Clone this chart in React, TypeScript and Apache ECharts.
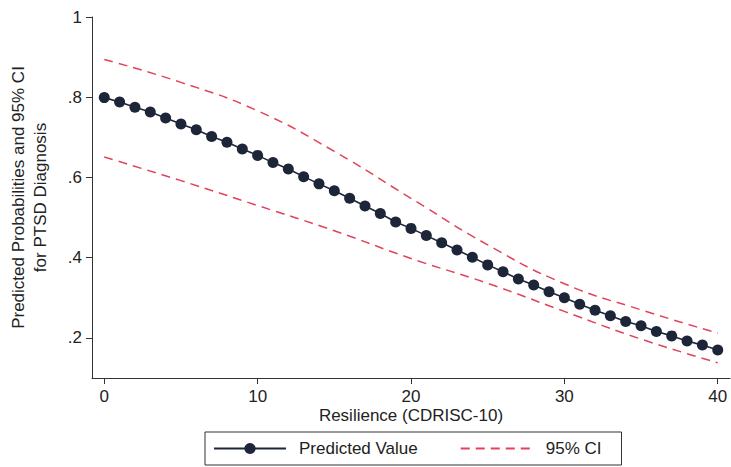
import React, { useEffect, useRef } from "react";
import * as echarts from "echarts";

const resilience: number[] = [
  0, 1, 2, 3, 4, 5, 6, 7, 8, 9, 10, 11, 12, 13, 14, 15, 16, 17, 18, 19, 20,
  21, 22, 23, 24, 25, 26, 27, 28, 29, 30, 31, 32, 33, 34, 35, 36, 37, 38, 39, 40,
];
const predicted: number[] = [
  0.799, 0.788, 0.775, 0.763, 0.748, 0.733, 0.719, 0.702, 0.688, 0.671, 0.655,
  0.637, 0.621, 0.602, 0.584, 0.567, 0.548, 0.529, 0.51, 0.489, 0.473,
  0.455, 0.437, 0.419, 0.401, 0.382, 0.365, 0.347, 0.332, 0.315, 0.3,
  0.284, 0.269, 0.255, 0.241, 0.23, 0.216, 0.205, 0.192, 0.182, 0.17,
];
const ciX: number[] = [0, 5, 10, 15, 20, 25, 30, 35, 40];
const ciUpper: number[] = [0.894, 0.837, 0.766, 0.665, 0.548, 0.432, 0.335, 0.27, 0.212];
const ciLower: number[] = [0.651, 0.592, 0.53, 0.467, 0.398, 0.336, 0.266, 0.197, 0.138];
const xTicks: number[] = [0, 10, 20, 30, 40];
const yTicks: number[] = [0.2, 0.4, 0.6, 0.8, 1];

const FONT = "'Liberation Sans', Arial, sans-serif";
const TEXT = "#222";
const NAVY = "#1d2638";
const RED = "#e2435c";

export default function App() {
  const ref = useRef<HTMLDivElement>(null);
  useEffect(() => {
    if (!ref.current) return;
    const chart = echarts.init(ref.current, null, { renderer: "svg" });
    chart.setOption({
      animation: false,
      backgroundColor: "#fff",
      textStyle: { fontFamily: FONT },
      grid: { left: 92, right: 1, top: 17, bottom: 89, containLabel: false, outerBoundsMode: "none" },
      legend: {
        left: 205,
        top: 432,
        data: [
          { name: "Predicted Value" },
          { name: "95% CI", itemStyle: { opacity: 0 } },
        ],
        borderColor: "#333",
        borderWidth: 1,
        padding: [8, 20, 8, 8],
        itemWidth: 72,
        itemHeight: 14,
        itemGap: 42,
        textStyle: { fontSize: 17, color: TEXT, fontFamily: FONT, padding: [0, 0, 0, 8] },
      },
      xAxis: {
        type: "value",
        min: -0.8,
        max: 40.8,
        name: "Resilience (CDRISC-10)",
        nameLocation: "middle",
        nameGap: 29,
        nameMoveOverlap: false,
        nameTextStyle: { fontSize: 17, color: TEXT, fontFamily: FONT },
        axisLine: { show: true, onZero: false, lineStyle: { color: "#333", width: 1 } },
        axisTick: { show: true, length: 6, customValues: xTicks, lineStyle: { color: "#333" } },
        axisLabel: { customValues: xTicks, fontSize: 17, color: TEXT, margin: 10, fontFamily: FONT },
        splitLine: { show: false },
      },
      yAxis: {
        type: "value",
        min: 0.1,
        max: 1,
        name: "Predicted Probabilities and 95% CI\nfor PTSD Diagnosis",
        nameLocation: "middle",
        nameGap: 41,
        nameMoveOverlap: false,
        nameTextStyle: { fontSize: 17, color: TEXT, fontFamily: FONT, lineHeight: 22 },
        axisLine: { show: true, onZero: false, lineStyle: { color: "#333", width: 1 } },
        axisTick: { show: true, length: 6, customValues: yTicks, lineStyle: { color: "#333" } },
        axisLabel: {
          customValues: yTicks,
          fontSize: 17,
          color: TEXT,
          margin: 10,
          fontFamily: FONT,
          formatter: (v: number) => (Math.abs(v - 1) < 1e-9 ? "1" : String(Math.round(v * 10) / 10).replace(/^0/, "")),
        },
        splitLine: { show: false },
      },
      series: [
        {
          name: "Predicted Value",
          type: "line",
          data: resilience.map((x, i) => [x, predicted[i]]),
          symbol: "circle",
          symbolSize: 11,
          itemStyle: { color: NAVY },
          lineStyle: { color: NAVY, width: 1.6 },
          z: 3,
        },
        {
          name: "95% CI",
          type: "line",
          data: ciX.map((x, i) => [x, ciUpper[i]]),
          smooth: true,
          symbol: "none",
          itemStyle: { color: RED },
          lineStyle: { color: RED, width: 1.5, type: [9, 6] },
        },
        {
          name: "95% CI",
          type: "line",
          data: ciX.map((x, i) => [x, ciLower[i]]),
          smooth: true,
          symbol: "none",
          itemStyle: { color: RED },
          lineStyle: { color: RED, width: 1.5, type: [9, 6] },
        },
      ],
    });
    return () => chart.dispose();
  }, []);
  return (
    <div
      ref={ref}
      style={{ position: "fixed", left: 0, top: 0, width: 731, height: 467, background: "#fff" }}
    />
  );
}
